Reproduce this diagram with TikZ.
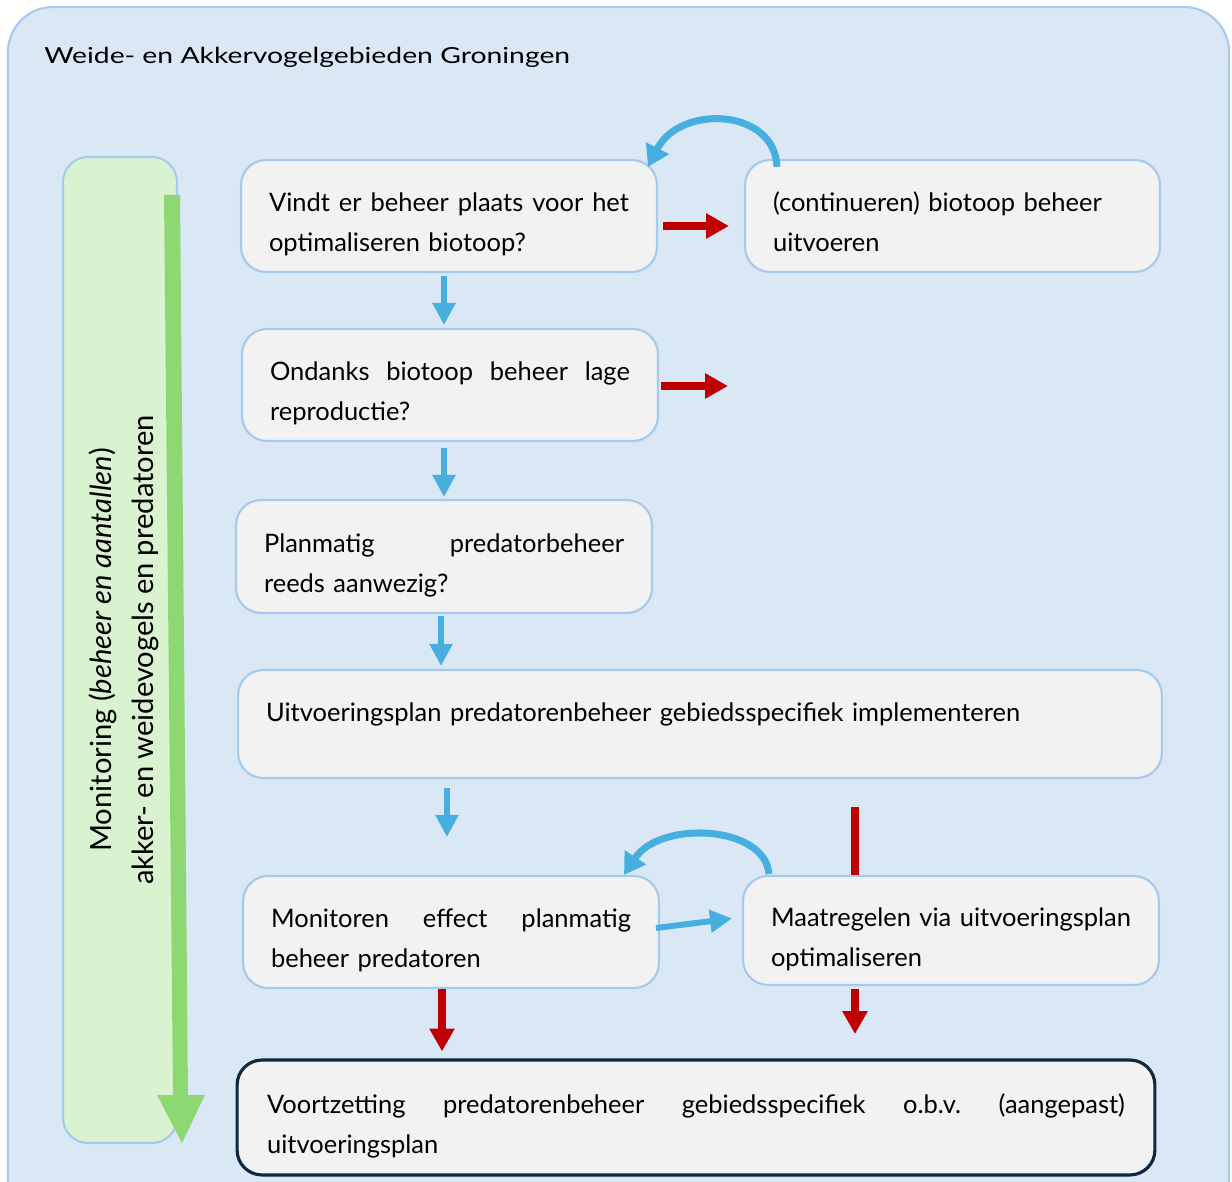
\documentclass[tikz,border=0pt]{standalone}
\usepackage{fontspec}
\setmainfont{Lato}
\usetikzlibrary{arrows.meta,calc}
\definecolor{bgblue}{HTML}{DAE8F6}
\definecolor{edgeblue}{HTML}{A6C9EC}
\definecolor{boxgray}{HTML}{F2F2F2}
\definecolor{arrowblue}{HTML}{47AEE0}
\definecolor{arrowred}{HTML}{C00000}
\definecolor{barfill}{HTML}{D9F2D0}
\definecolor{bargreen}{HTML}{8ED873}
\definecolor{darknavy}{HTML}{0E2841}
\newcommand{\jl}[2]{\makebox[#1][s]{\frenchspacing\spaceskip=0.28em plus 20em minus 0.12em\relax\xspaceskip=\spaceskip #2}}
\newcommand{\tup}{\rule{0pt}{20.4pt}}
\begin{document}
\begin{tikzpicture}[x=0.02cm,y=-0.02cm,
  bodyfont/.style={font=\fontsize{14.5}{22.7}\selectfont},
  box/.style={draw=edgeblue, line width=1.2pt, fill=boxgray, rounded corners=0.5cm,
    align=left, inner xsep=0.56cm, inner ysep=0pt, bodyfont},
  redarr/.style={draw=arrowred, line width=4.5pt, -{Triangle[width=13.6pt,length=13pt]}},
  bluearr/.style={draw=arrowblue, line width=3.4pt, -{Triangle[width=12.5pt,length=12.5pt]}},
  bluecurve/.style={draw=arrowblue, line width=4pt, -{Triangle[width=14pt,length=12pt]}}]
\useasboundingbox (0,0) rectangle (1232,1182);
\clip (0,0) rectangle (1232,1182);
% outer frame
\draw[draw=edgeblue, fill=bgblue, line width=1.2pt, rounded corners=0.9cm] (8,7) rectangle (1229,1240);
\node[anchor=west, inner xsep=0pt, font=\fontsize{12.6}{16}\selectfont] (title) at (44,57)
  {\scalebox{1.28}[1]{Weide- en Akkervogelgebieden Groningen}};
% monitoring bar
\draw[draw=edgeblue, fill=barfill, rounded corners=0.5cm, line width=1.2pt] (63,157) rectangle (177,1143);
\fill[bargreen] (164,195) -- (180,195) -- (188,1096) -- (173,1096) -- cycle;
\fill[bargreen] (157,1095) -- (205,1095) -- (182,1143) -- cycle;
\node[rotate=90, align=center, font=\fontsize{16.6}{23.8}\selectfont] (mon) at (124,650)
  {Monitoring (\textit{beheer en aantallen})\\ \jl{9.4cm}{akker- en weidevogels en predatoren}};
% boxes
\node[box, minimum width=8.32cm, minimum height=2.24cm, text width=7.2cm] (b1) at (449,216)
  {\tup\jl{7.2cm}{Vindt er beheer plaats voor het}\\optimaliseren biotoop?};
\node[box, minimum width=8.3cm, minimum height=2.24cm, text width=7.18cm] (b2) at (952.5,216)
  {\rule{0pt}{18pt}(continueren) biotoop beheer\\uitvoeren};
\node[box, minimum width=8.32cm, minimum height=2.24cm, text width=7.2cm] (b3) at (450,385)
  {\tup\jl{7.2cm}{Ondanks biotoop beheer lage}\\reproductie?};
\node[box, minimum width=8.32cm, minimum height=2.26cm, text width=7.2cm] (b4) at (444,556.5)
  {\tup\jl{7.2cm}{Planmatig predatorbeheer}\\reeds aanwezig?};
\node[box, minimum width=18.48cm, minimum height=2.16cm, text width=17.36cm] (b5) at (700,724)
  {Uitvoeringsplan predatorenbeheer gebiedsspecifiek implementeren\rule[-13pt]{0pt}{0pt}};
\node[box, minimum width=8.32cm, minimum height=2.24cm, text width=7.2cm] (b6) at (451,932)
  {\tup\jl{7.2cm}{Monitoren effect planmatig}\\beheer predatoren};
\node[box, minimum width=8.32cm, minimum height=2.18cm, text width=7.2cm] (b7) at (951,930.5)
  {\tup\jl{7.2cm}{Maatregelen via uitvoeringsplan}\\optimaliseren};
\node[box, draw=darknavy, line width=1.8pt, minimum width=18.36cm, minimum height=2.3cm,
  text width=17.16cm, inner xsep=0.6cm] (b8) at (696,1117.5)
  {\tup\jl{17.16cm}{Voortzetting predatorenbeheer gebiedsspecifiek o.b.v. (aangepast)}\\uitvoeringsplan};
% connectors
\coordinate (r3end) at (728,386);
\coordinate (redtop) at (855,807);
\draw[redarr] ($(b1.east)+(5,10)$) -- ($(b2.west)+(-15,10)$);
\draw[redarr] ($(b3.east)+(2,1)$) -- (r3end);
\draw[bluearr] ($(b1.south)+(-5,3)$) -- ($(b3.north)+(-6,-3)$);
\draw[bluearr] ($(b3.south)+(-6,6)$) -- ($(b4.north)+(0,-2)$);
\draw[bluearr] ($(b4.south)+(-3,2)$) -- ($(b4.south |- b5.north)+(-3,-3)$);
\draw[bluearr] ($(b5.south -| b6.north)+(-4,9)$) -- ($(b6.north)+(-4,-38)$);
\draw[draw=arrowred, line width=4.5pt] (redtop) -- (redtop |- b7.north);
\draw[bluearr] ($(b6.east)+(-4,-4)$) -- ($(b7.west)+(-10,-12)$);
\draw[bluecurve] ($(b7.north west)+(27,-1)$) .. controls (765,825) and (660,820) .. ($(b6.north east)+(-36,0)$);
\draw[bluecurve] ($(b2.north west)+(33,8)$) .. controls (775,108) and (680,104) .. ($(b1.north east)+(-10,8)$);
\draw[redarr] ($(b6.south)+(-9,0)$) -- ($(b6.south |- b8.north)+(-9,-7)$);
\draw[redarr] ($(b7.south -| redtop)+(0,3)$) -- ($(b7.south -| redtop)+(0,48)$);
\end{tikzpicture}
\end{document}
